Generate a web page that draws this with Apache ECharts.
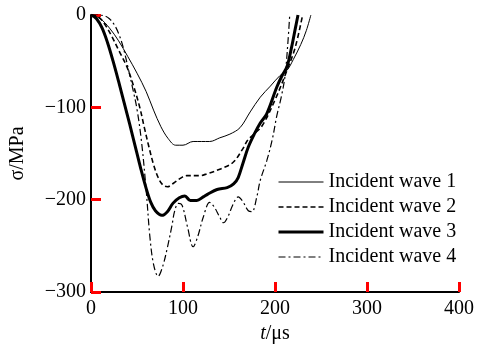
<!DOCTYPE html>
<html>
<head>
<meta charset="utf-8">
<script src="https://cdn.jsdelivr.net/npm/echarts@6/dist/echarts.min.js"></script>
<style>
  html, body { margin: 0; padding: 0; background: #fff; }
  #chart { width: 489px; height: 344px; }
</style>
</head>
<body>
<div id="chart"></div>
<script>
// t in µs, sigma in MPa
var wave1T = [0, 10, 20, 30, 40, 50, 60, 68, 76, 84, 92, 100, 111, 120, 129, 140, 151, 162, 173, 184, 195, 205, 213, 220, 228, 234, 239]
var wave1S = [0, -4, -14, -28, -45, -63, -83, -103, -121, -134, -141, -141, -137, -137, -137, -133, -129, -122, -105, -89, -77, -66, -60, -48, -32, -17, 0]

var wave2T = [0, 8, 15, 22, 30, 39, 46, 53, 58, 63, 68, 73, 78, 83, 90, 97, 104, 118, 126, 140, 154, 165, 170, 176, 186, 200, 213, 222, 230]
var wave2S = [0, -2, -10, -22, -38, -56, -76, -100, -122, -143, -162, -176, -184, -186, -182, -177, -174, -174, -172, -167, -160, -145, -136, -130, -120, -92, -60, -35, 0]

var wave3T = [0, 6, 12, 18, 24, 30, 36, 42, 48, 54, 60, 65, 70, 77, 83, 89, 96, 102, 108, 115, 122, 127, 137, 148, 155, 160, 165, 171, 178, 184, 191, 202, 208, 213, 218, 222, 225]
var wave3S = [0, -4, -14, -30, -50, -72, -95, -118, -142, -166, -188, -203, -212, -217, -213, -204, -198, -196, -201, -201, -197, -194, -189, -187, -183, -176, -161, -143, -128, -117, -107, -78, -65, -56, -35, -15, 0]

var wave4T = [0, 5, 10, 15, 20, 25, 30, 35, 40, 45, 50, 55, 60, 64, 68, 73, 78, 83, 88, 91, 95, 99, 105, 111, 116, 122, 129, 134, 140, 144, 149, 154, 160, 165, 171, 175, 180, 184, 191, 197, 202, 207, 211, 214, 216]
var wave4S = [0, 1, 0, -1, -4, -10, -20, -35, -56, -78, -102, -138, -190, -240, -270, -283, -272, -252, -228, -212, -204, -206, -230, -251, -240, -219, -203, -208, -219, -225, -218, -206, -197, -202, -212, -213, -198, -179, -158, -135, -109, -88, -65, -30, 0]

var names = ['Incident wave 1', 'Incident wave 2', 'Incident wave 3', 'Incident wave 4']

function pairs (ts, ss) {
  return ts.map(function (t, i) { return [t, ss[i]] })
}

var serif = 'Liberation Serif'
var chart = echarts.init(document.getElementById('chart'))

var styles = [
  { color: '#000', width: 1, type: 'solid' },
  { color: '#000', width: 1.6, type: [5, 3] },
  { color: '#000', width: 3, type: 'solid' },
  { color: '#000', width: 1.2, type: [7, 3, 2, 3] }
]

function series (i, ts, ss) {
  return {
    name: names[i],
    type: 'line',
    data: pairs(ts, ss),
    smooth: 0.35,
    symbol: 'none',
    lineStyle: styles[i],
    itemStyle: { color: '#000' }
  }
}

// ticks drawn as their own style so they can be checked
var tickStyle = { show: true, inside: true, length: 10, lineStyle: { color: '#f00', width: 3 } }

chart.setOption({
  animation: false,
  grid: { left: 91, right: 30, top: 15, bottom: 52, outerBoundsMode: 'none' },
  legend: {
    orient: 'vertical',
    left: 272,
    top: 167,
    itemWidth: 45,
    itemHeight: 14,
    itemGap: 5,
    itemStyle: { opacity: 0 },
    textStyle: { fontFamily: serif, fontSize: 20, color: '#000' },
    data: names.map(function (n, i) { return { name: n, lineStyle: styles[i] } })
  },
  xAxis: {
    type: 'value',
    min: 0,
    max: 400,
    interval: 100,
    name: '{i|t}/μs',
    nameLocation: 'middle',
    nameGap: 28,
    nameTextStyle: {
      fontFamily: serif, fontSize: 20, color: '#000',
      rich: { i: { fontFamily: serif, fontSize: 20, fontStyle: 'italic', color: '#000' } }
    },
    axisLine: { onZero: false, lineStyle: { color: '#000', width: 2 } },
    axisTick: tickStyle,
    axisLabel: { fontFamily: serif, fontSize: 20, color: '#000', margin: 7 },
    splitLine: { show: false }
  },
  yAxis: {
    type: 'value',
    min: -300,
    max: 0,
    interval: 100,
    name: 'σ/MPa',
    nameLocation: 'middle',
    nameGap: 63,
    nameTextStyle: { fontFamily: serif, fontSize: 20, color: '#000' },
    axisLine: { onZero: false, lineStyle: { color: '#000', width: 2 } },
    axisTick: tickStyle,
    axisLabel: {
      fontFamily: serif, fontSize: 20, color: '#000', margin: 5,
      formatter: function (v) { return String(v).replace('-', '\u2212') }
    },
    splitLine: { show: false }
  },
  series: [
    series(0, wave1T, wave1S),
    series(1, wave2T, wave2S),
    series(2, wave3T, wave3S),
    series(3, wave4T, wave4S)
  ]
})
</script>
</body>
</html>
